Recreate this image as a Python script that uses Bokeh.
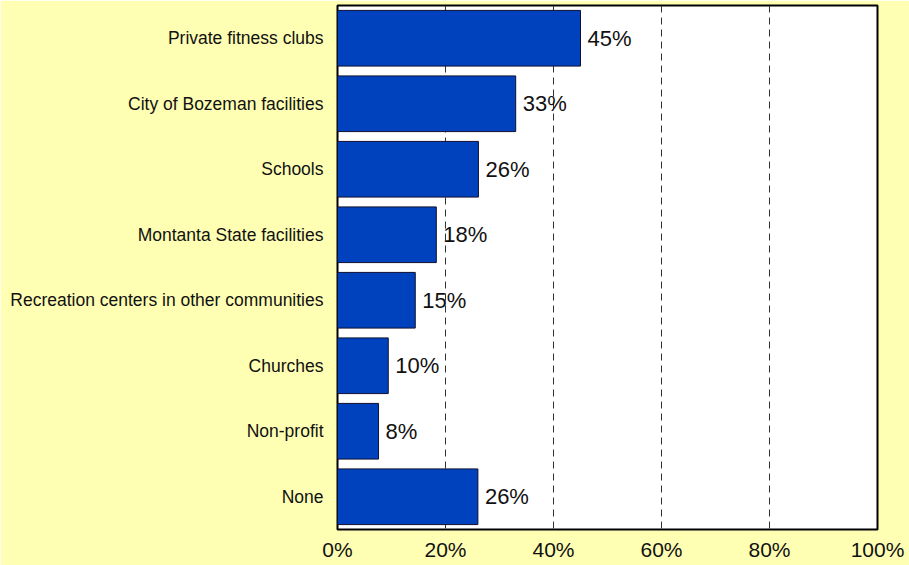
from bokeh.plotting import figure
from bokeh.models import ColumnDataSource, FactorRange, FixedTicker, Span
from bokeh.core.properties import value
from bokeh.embed import file_html
from bokeh.resources import INLINE

categories = ["Private fitness clubs", "City of Bozeman facilities", "Schools",
              "Montanta State facilities", "Recreation centers in other communities",
              "Churches", "Non-profit", "None"]
values = [45.0, 33.0, 26.1, 18.3, 14.4, 9.4, 7.6, 26.0]
value_labels = ["45%", "33%", "26%", "18%", "15%", "10%", "8%", "26%"]
x_ticks = [0, 20, 40, 60, 80, 100]
x_tick_labels = ["0%", "20%", "40%", "60%", "80%", "100%"]

BG = "#FFFFB4"
BAR = "#0041BE"
FONT = "Liberation Sans"

src = ColumnDataSource(dict(cat=categories, val=values, lab=value_labels))

p = figure(width=909, height=565, output_backend="svg", toolbar_location=None,
           y_range=FactorRange(factors=list(reversed(categories)), range_padding=0),
           x_range=(0, 100),
           min_border_left=337, min_border_right=32, min_border_top=5, min_border_bottom=36)

p.background_fill_color = "white"
p.border_fill_color = BG
p.outline_line_color = "black"
p.outline_line_width = 2

p.hbar(y="cat", right="val", left=0, height=0.85, source=src,
       fill_color=BAR, line_color="#101030", line_width=1)

p.text(x="val", y="cat", text="lab", source=src, x_offset=7,
       text_baseline="middle", text_align="left",
       text_font=value(FONT), text_font_size="22px", text_color="#111111")

p.xgrid.grid_line_color = None
p.ygrid.grid_line_color = None
for t in x_ticks[1:-1]:
    p.add_layout(Span(location=t, dimension="height", line_color="#333333",
                      line_width=1, line_dash="7 5", level="underlay"))

p.xaxis.ticker = FixedTicker(ticks=x_ticks)
p.xaxis.major_label_overrides = {t: l for t, l in zip(x_ticks, x_tick_labels)}
p.xaxis.axis_line_color = None
p.xaxis.major_tick_line_color = None
p.xaxis.minor_tick_line_color = None
p.xaxis.major_tick_out = 0
p.xaxis.major_tick_in = 0
p.xaxis.major_label_standoff = 8
p.xaxis.major_label_text_font = FONT
p.xaxis.major_label_text_font_size = "21px"
p.xaxis.major_label_text_color = "#111111"

p.yaxis.axis_line_color = None
p.yaxis.major_tick_line_color = None
p.yaxis.minor_tick_line_color = None
p.yaxis.major_tick_out = 0
p.yaxis.major_tick_in = 0
p.yaxis.major_label_standoff = 14
p.yaxis.major_label_text_font = FONT
p.yaxis.major_label_text_font_size = "17.5px"
p.yaxis.major_label_text_color = "#111111"

open("out.html", "w").write(file_html(p, INLINE))
